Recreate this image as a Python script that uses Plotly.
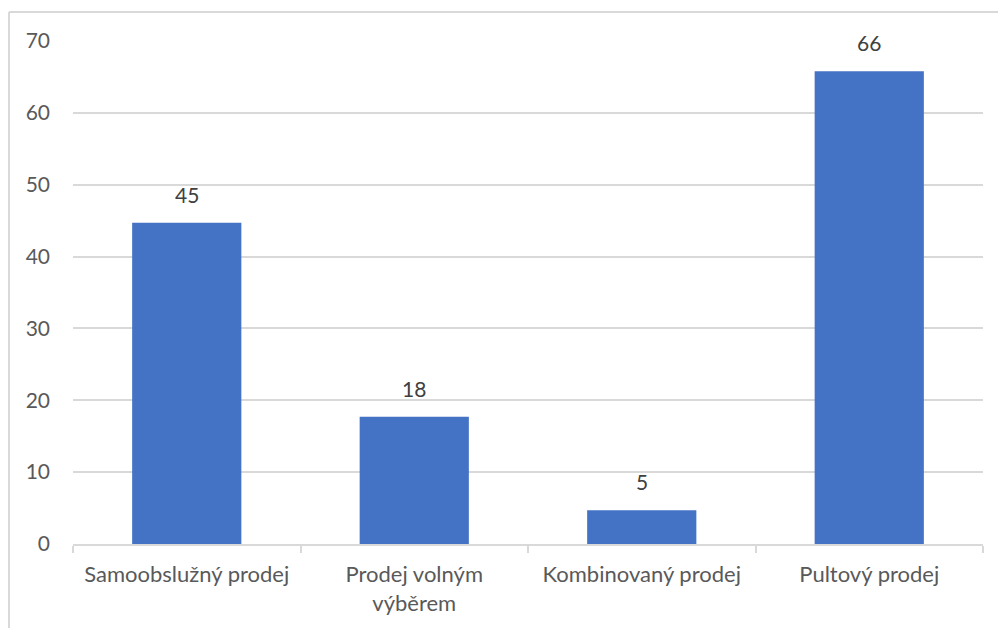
import plotly.graph_objects as go

categories = ["Samoobslužný prodej", "Prodej volným<br>výběrem", "Kombinovaný prodej", "Pultový prodej"]
values = [44.7, 17.7, 4.7, 65.8]
labels = ["45", "18", "5", "66"]
y_ticks = [0, 10, 20, 30, 40, 50, 60, 70]

FONT = "Lato, Open Sans, sans-serif"
GRID = "#d9d9d9"
FS = 21

fig = go.Figure()
fig.add_trace(go.Bar(x=categories, y=values, marker=dict(color="#4472C4", line=dict(width=0)),
                     width=0.48, hoverinfo="skip"))

for c, v, t in zip(categories, values, labels):
    fig.add_annotation(x=c, y=v, text=t, showarrow=False, yanchor="bottom", yshift=14,
                       font=dict(family=FONT, size=FS, color="#404040"))

fig.update_layout(
    width=998, height=628,
    margin=dict(l=73, r=15, t=41, b=84),
    paper_bgcolor="white", plot_bgcolor="white",
    showlegend=False,
    font=dict(family=FONT, size=FS, color="#595959"),
    xaxis=dict(showline=True, linecolor=GRID, linewidth=1.5, ticks="outside", tickson="boundaries",
               ticklen=7, tickcolor=GRID, tickwidth=1.5, showgrid=False, ticklabelstandoff=10,
               tickfont=dict(family=FONT, size=22, color="#595959")),
    yaxis=dict(range=[0, 70], tickvals=y_ticks, showgrid=True, gridcolor=GRID, gridwidth=1.5,
               zeroline=False, showline=False, ticks="", ticklabelstandoff=22,
               tickfont=dict(family=FONT, size=FS, color="#595959")),
    shapes=[
        dict(type="line", xref="paper", yref="paper", x0=-64/910, x1=-64/910, y0=-2, y1=(544-12)/503,
             line=dict(color=GRID, width=2)),
        dict(type="line", xref="paper", yref="paper", x0=-64/910, x1=2, y0=(544-12)/503, y1=(544-12)/503,
             line=dict(color=GRID, width=2)),
    ],
)

fig.write_html("out.html")
